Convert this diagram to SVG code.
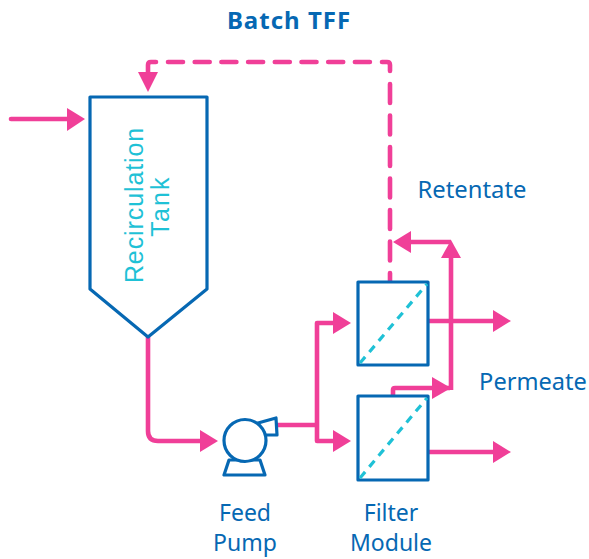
<svg xmlns="http://www.w3.org/2000/svg" width="589" height="559" viewBox="0 0 589 559">
<style>
.n{fill:#fff;stroke:#0668b3;stroke-width:3.2;stroke-linejoin:round}
.c{fill:none;stroke:#f03f98;stroke-width:4.6;stroke-linejoin:round}
.d{stroke-linecap:round}
.h{fill:#f03f98;stroke:none}
.m{fill:none;stroke:#1fc1d6;stroke-width:3.2;stroke-dasharray:8 6.5}
.t{font-family:"Noto Sans","Open Sans",sans-serif;font-size:23px;fill:#0668b3;text-anchor:middle}
.r{font-family:"Liberation Sans",Arial,sans-serif;font-size:25px;fill:#1fc1d6;text-anchor:middle}
</style>
<rect width="589" height="559" fill="#fff"/>
<g id="connectors">
<path class="c d" d="M148 74V65Q148 62 151 62H156"/>
<path class="c d" d="M168 62H378" stroke-dasharray="15 11.7"/>
<path class="c d" d="M382 62H387Q390 62 390 65V71"/>
<path class="c d" d="M390 84V281" stroke-dasharray="19 12.5"/>
<path class="c d" d="M11 119H68"/>
<path class="h" d="M67 108L85 119L67 131Z"/>
<path class="h" d="M138 72H158L148 92Z"/>
<path class="c" d="M148 337V431Q148 441 158 441H204"/>
<path class="h" d="M200 430L218 441L200 452Z"/>
<path class="c" d="M277 425H317"/>
<path class="c" d="M334 323H317V441H334"/>
<path class="h" d="M333 312L351 323L333 334Z"/>
<path class="h" d="M333 430L351 441L333 452Z"/>
<path class="c" d="M393 396V390Q393 388 395 388H450"/>
<path class="h" d="M432 377L451 388L432 399Z"/>
<path class="c" d="M451 390V256"/>
<path class="h" d="M441 258L451 240L461 258Z"/>
<path class="c" d="M451 242H410"/>
<path class="h" d="M411 231L393 242L411 253Z"/>
<path class="c" d="M428 321H495"/>
<path class="h" d="M493 310L511 321L493 332Z"/>
<path class="c" d="M428 452H495"/>
<path class="h" d="M493 441L511 452L493 463Z"/>
</g>
<g id="tank">
<path class="n" d="M90 97H207V289L148 337L90 289Z"/>
<text class="r" transform="translate(143 205) rotate(-90)" style="letter-spacing:.9px">Recirculation</text>
<text class="r" transform="translate(169 206) rotate(-90)" style="letter-spacing:2.2px">Tank</text>
</g>
<g id="pump">
<path class="n" d="M229 460L224 475H265L260 460Z"/>
<path class="n" d="M258 423L276 418L277 435L262 435Z"/>
<circle class="n" cx="245" cy="440.5" r="21"/>
<text class="t" x="245" y="521">Feed</text>
<text class="t" x="245" y="551">Pump</text>
</g>
<g id="filter1">
<rect class="n" x="358" y="282" width="70" height="83"/>
<path class="m" d="M360 363L427 284"/>
</g>
<g id="filter2">
<rect class="n" x="358" y="396" width="70" height="84"/>
<path class="m" d="M360 478L427 398"/>
<text class="t" x="391" y="521">Filter</text>
<text class="t" x="391" y="551">Module</text>
</g>
<g id="labels">
<text class="t" x="289" y="29" style="font-weight:700;font-size:24px;letter-spacing:1px">Batch TFF</text>
<text class="t" x="472" y="198" style="font-size:23.8px">Retentate</text>
<text class="t" x="533" y="390" style="font-size:23.6px">Permeate</text>
</g>
</svg>
